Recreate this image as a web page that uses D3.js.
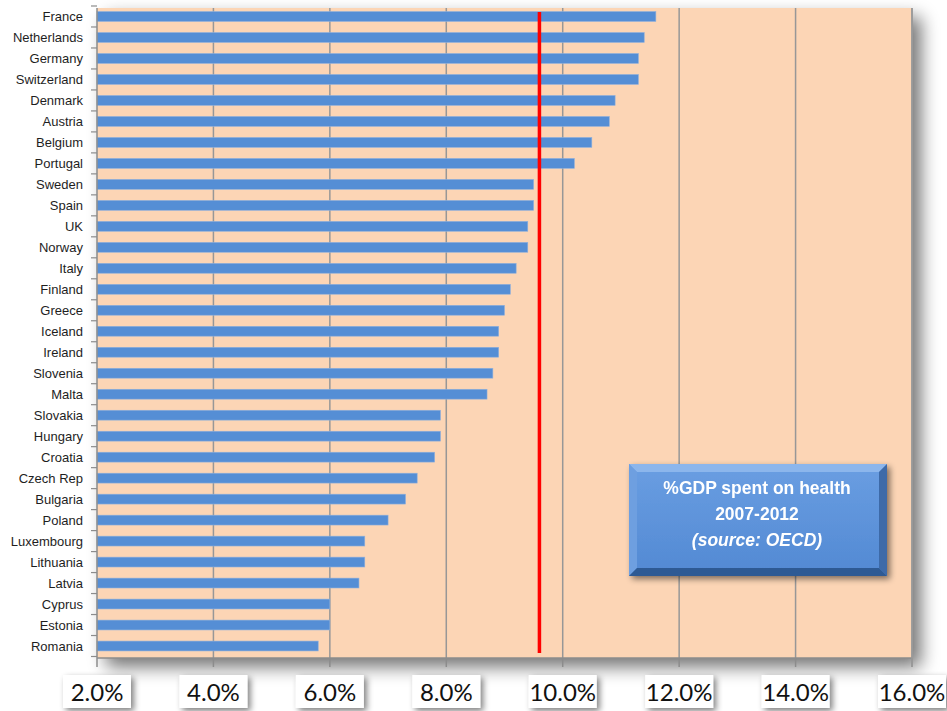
<!DOCTYPE html>
<html>
<head>
<meta charset="utf-8">
<script src="https://cdn.jsdelivr.net/npm/d3@7"></script>
<style>
  html, body { margin: 0; padding: 0; background: #ffffff; }
  svg { display: block; }
</style>
</head>
<body>
<svg id="chart" width="947" height="711"></svg>
<script>
// Health spending as a share of GDP, 2007-2012 (OECD)
const countries = ["France","Netherlands","Germany","Switzerland","Denmark","Austria","Belgium","Portugal",
  "Sweden","Spain","UK","Norway","Italy","Finland","Greece","Iceland","Ireland","Slovenia","Malta",
  "Slovakia","Hungary","Croatia","Czech Rep","Bulgaria","Poland","Luxembourg","Lithuania","Latvia",
  "Cyprus","Estonia","Romania"];
const gdpShare = [11.6,11.4,11.3,11.3,10.9,10.8,10.5,10.2,9.5,9.5,9.4,9.4,9.2,9.1,9.0,8.9,8.9,8.8,8.7,
  7.9,7.9,7.8,7.5,7.3,7.0,6.6,6.6,6.5,6.0,6.0,5.8];
const referenceLine = 9.6;
const xTicks = [2,4,6,8,10,12,14,16];
const boxLines = ["%GDP spent on health", "2007-2012", "(source: OECD)"];

const svg = d3.select("#chart");
const plot = { left: 97, right: 912, top: 8, bottom: 658 };

const x = d3.scaleLinear().domain([2, 16]).range([plot.left, plot.right]);
const y = d3.scaleBand().domain(countries).range([6, 656.5]).paddingInner(0.53).paddingOuter(0.265);

const defs = svg.append("defs");
const sh = defs.append("filter").attr("id", "plotShadow")
  .attr("x", "-5%").attr("y", "-5%").attr("width", "115%").attr("height", "115%");
sh.append("feGaussianBlur").attr("in", "SourceAlpha").attr("stdDeviation", 9).attr("result", "b");
sh.append("feOffset").attr("in", "b").attr("dx", 9).attr("dy", 9).attr("result", "o");
sh.append("feComponentTransfer").attr("in", "o").attr("result", "oc")
  .append("feFuncA").attr("type", "linear").attr("slope", 0.55);
const m1 = sh.append("feMerge");
m1.append("feMergeNode").attr("in", "oc");
m1.append("feMergeNode").attr("in", "SourceGraphic");

const lblShadow = defs.append("filter").attr("id", "labelShadow")
  .attr("x", "-30%").attr("y", "-30%").attr("width", "170%").attr("height", "170%");
lblShadow.append("feGaussianBlur").attr("in", "SourceAlpha").attr("stdDeviation", 3).attr("result", "b");
lblShadow.append("feOffset").attr("in", "b").attr("dx", 3).attr("dy", 3).attr("result", "o");
lblShadow.append("feComponentTransfer").attr("in", "o").attr("result", "oc")
  .append("feFuncA").attr("type", "linear").attr("slope", 0.5);
const m2 = lblShadow.append("feMerge");
m2.append("feMergeNode").attr("in", "oc");
m2.append("feMergeNode").attr("in", "SourceGraphic");

const boxGrad = defs.append("linearGradient").attr("id", "boxFill")
  .attr("x1", 0).attr("y1", 0).attr("x2", 0).attr("y2", 1);
boxGrad.append("stop").attr("offset", "0%").attr("stop-color", "#6A9EE2");
boxGrad.append("stop").attr("offset", "100%").attr("stop-color", "#5289D3");

// Plot background with soft shadow
svg.append("rect")
  .attr("x", plot.left).attr("y", plot.top)
  .attr("width", plot.right - plot.left).attr("height", plot.bottom - plot.top)
  .attr("fill", "#FCD5B5").attr("filter", "url(#plotShadow)");

// Vertical gridlines
svg.append("g").selectAll("line").data(xTicks.slice(1)).join("line")
  .attr("x1", d => x(d)).attr("x2", d => x(d))
  .attr("y1", plot.top).attr("y2", plot.bottom)
  .attr("stroke", "#979797").attr("stroke-width", 1.5);

// Bars
svg.append("g").selectAll("rect").data(countries).join("rect")
  .attr("x", x(2)).attr("y", d => y(d))
  .attr("width", (d, i) => x(gdpShare[i]) - x(2))
  .attr("height", y.bandwidth())
  .attr("fill", "#558ED5").attr("stroke", "#8FB0DC").attr("stroke-width", 0.6);

// Average reference line
svg.append("line")
  .attr("x1", x(referenceLine)).attr("x2", x(referenceLine))
  .attr("y1", 12).attr("y2", 653)
  .attr("stroke", "#FF0000").attr("stroke-width", 3.5);

// Left (category) axis
const yAxis = svg.append("g");
yAxis.append("line").attr("x1", plot.left).attr("x2", plot.left)
  .attr("y1", plot.top).attr("y2", plot.bottom).attr("stroke", "#8C8C8C").attr("stroke-width", 1.5);
const step = y.step();
const bounds = d3.range(countries.length + 1).map(i => 6 + i * step);
yAxis.selectAll("line.tk").data(bounds).join("line").attr("class", "tk")
  .attr("x1", plot.left - 6).attr("x2", plot.left)
  .attr("y1", d => d).attr("y2", d => d)
  .attr("stroke", "#8C8C8C").attr("stroke-width", 1.2);
yAxis.selectAll("text").data(countries).join("text")
  .attr("x", 83).attr("y", d => y(d) + y.bandwidth() / 2)
  .attr("dy", "0.36em").attr("text-anchor", "end")
  .attr("font-family", "Liberation Sans, Arial, sans-serif").attr("font-size", 13)
  .attr("fill", "#1e1e1e").text(d => d);

// Bottom axis
const xAxis = svg.append("g");
xAxis.append("line").attr("x1", plot.left).attr("x2", plot.right)
  .attr("y1", plot.bottom).attr("y2", plot.bottom).attr("stroke", "#8C8C8C").attr("stroke-width", 1.5);
xAxis.selectAll("line.tk").data(xTicks).join("line").attr("class", "tk")
  .attr("x1", d => x(d)).attr("x2", d => x(d))
  .attr("y1", plot.bottom).attr("y2", plot.bottom + 9)
  .attr("stroke", "#8C8C8C").attr("stroke-width", 1.5);
svg.append("line").attr("x1", plot.right).attr("x2", plot.right)
  .attr("y1", plot.top).attr("y2", plot.bottom + 9)
  .attr("stroke", "#9A9A9A").attr("stroke-width", 1.5);

const fmt = d3.format(".1f");
const tickLabels = xAxis.selectAll("g.lbl").data(xTicks).join("g").attr("class", "lbl")
  .attr("transform", d => `translate(${x(d)},692)`);
tickLabels.append("rect")
  .attr("x", -34).attr("y", -17).attr("width", 68).attr("height", 33)
  .attr("fill", "#ffffff").attr("filter", "url(#labelShadow)");
tickLabels.append("text")
  .attr("text-anchor", "middle").attr("dy", "0.36em")
  .attr("font-family", "Lato, 'Open Sans', sans-serif").attr("font-size", 24)
  .attr("fill", "#111").text(d => fmt(d) + "%");

// Title box with bevelled edges
const bx = 629, by = 464, bw = 258, bh = 112, bev = 8;
const box = svg.append("g").attr("filter", "url(#labelShadow)");
box.append("rect").attr("x", bx).attr("y", by).attr("width", bw).attr("height", bh).attr("fill", "url(#boxFill)");
const P = (pts) => pts.map(p => p.join(",")).join(" ");
box.append("polygon").attr("points", P([[bx,by],[bx+bw,by],[bx+bw-bev,by+bev],[bx+bev,by+bev]])).attr("fill", "#8CB6EC");
box.append("polygon").attr("points", P([[bx,by],[bx+bev,by+bev],[bx+bev,by+bh-bev],[bx,by+bh]])).attr("fill", "#6E9FE0");
box.append("polygon").attr("points", P([[bx+bw,by],[bx+bw,by+bh],[bx+bw-bev,by+bh-bev],[bx+bw-bev,by+bev]])).attr("fill", "#3C6AA8");
box.append("polygon").attr("points", P([[bx,by+bh],[bx+bw,by+bh],[bx+bw-bev,by+bh-bev],[bx+bev,by+bh-bev]])).attr("fill", "#2F5A94");
box.selectAll("text").data(boxLines).join("text")
  .attr("x", bx + bw / 2 - 1).attr("y", (d, i) => 488 + i * 26)
  .attr("dy", "0.36em").attr("text-anchor", "middle")
  .attr("font-family", "Liberation Sans, Arial, sans-serif").attr("font-size", 17.5)
  .attr("font-weight", "bold").attr("font-style", (d, i) => i === 2 ? "italic" : "normal")
  .attr("fill", "#ffffff").text(d => d);
</script>
</body>
</html>
